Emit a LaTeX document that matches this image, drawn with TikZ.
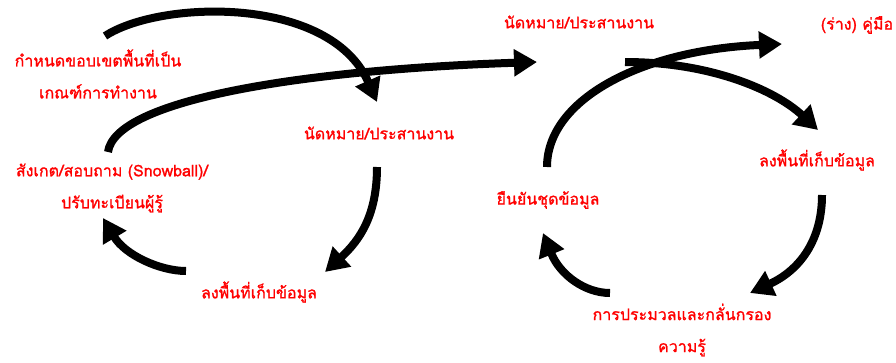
\documentclass[tikz,border=0pt]{standalone}
\usepackage{fontspec}
\newfontfamily\thaifont[Script=Thai,FakeBold=1.2]{Loma}
\usetikzlibrary{arrows.meta}
\tikzset{
  lbl/.style={text=red, font=\thaifont\fontsize{16}{32}\selectfont, align=center, inner sep=0pt},
  flow/.style={line width=8pt, -{Triangle[length=23pt,width=26pt]}},
}
\begin{document}
\begin{tikzpicture}[x=1pt,y=-1pt]
\useasboundingbox (0,0) rectangle (896,362);
% labels
\node[lbl] (scope) at (98,74) {กำหนดขอบเขตพื้นที่เป็น\\เกณฑ์การทำงาน};
\node[lbl] (meetL) at (379,133) {นัดหมาย/ประสานงาน};
\node[lbl] (fieldL) at (259,292) {ลงพื้นที่เก็บข้อมูล};
\node[lbl] (observe) at (112,188) {สังเกต/สอบถาม (Snowball)/\\ปรับทะเบียนผู้รู้};
\node[lbl] (meetR) at (579,22) {นัดหมาย/ประสานงาน};
\node[lbl] (draft) at (857,25) {(ร่าง) คู่มือ};
\node[lbl] (fieldR) at (817,160) {ลงพื้นที่เก็บข้อมูล};
\node[lbl] (confirm) at (548,200) {ยืนยันชุดข้อมูล};
\node[lbl] (process) at (682,330) {การประมวลและกลั่นกรอง\\ความรู้};
% arrow end points
\coordinate (a1s) at (105,36);  \coordinate (a1e) at (377,102);
\coordinate (a2s) at (108,152); \coordinate (a2e) at (537,62);
\coordinate (a3s) at (377,167); \coordinate (a3e) at (325,272);
\coordinate (a4s) at (186,271); \coordinate (a4e) at (103,218);
\coordinate (a5s) at (625,62);  \coordinate (a5e) at (818,130);
\coordinate (a6s) at (547,167); \coordinate (a6e) at (782,44);
\coordinate (a7s) at (822,195); \coordinate (a7e) at (750,293);
\coordinate (a8s) at (610,293); \coordinate (a8e) at (543,233);
% arrows
\draw[flow] (a1s) .. controls (160,0) and (330,-5) .. (a1e);
\draw[flow] (a2s) .. controls (115,100) and (300,70) .. (a2e);
\draw[flow] (a3s) .. controls (377,215) and (360,240) .. (a3e);
\draw[flow] (a4s) .. controls (160,271) and (125,255) .. (a4e);
\draw[flow] (a5s) .. controls (710,62) and (775,90) .. (a5e);
\draw[flow] (a6s) .. controls (547,100) and (640,50) .. (a6e);
\draw[flow] (a7s) .. controls (822,240) and (800,270) .. (a7e);
\draw[flow] (a8s) .. controls (585,293) and (560,275) .. (a8e);
\end{tikzpicture}
\end{document}
